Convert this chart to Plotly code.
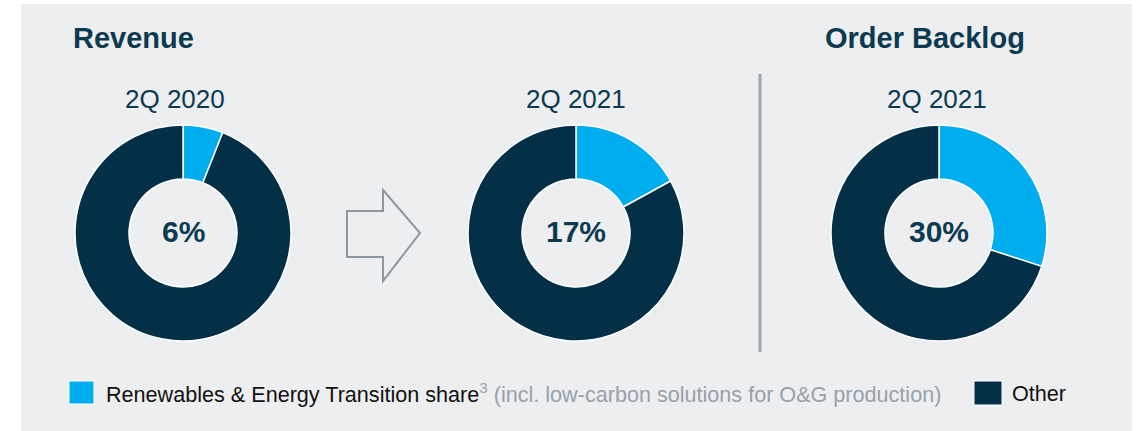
import plotly.graph_objects as go

W, H = 1141, 431

# ---- data ----
periods = ["2Q 2020", "2Q 2021", "2Q 2021"]
share_pct = [6, 17, 30]          # Renewables & Energy Transition share
other_pct = [94, 83, 70]         # Other
section_titles = ["Revenue", "Order Backlog"]
legend_labels = ["Renewables & Energy Transition share", "Other"]
legend_note_sup = "3"
legend_note = "(incl. low-carbon solutions for O&G production)"

BLUE = "#00aeef"
DARK = "#033047"
BG = "#edeef0"
TXT = "#0c3a50"
GRAY = "#97a2ab"
FONT = "Liberation Sans, Arial, sans-serif"

def px(x):
    return x / W

def py(y):
    return 1 - y / H

centers = [183, 576, 939]
label_x = [175, 576, 937]
cy = 233
R = 108

fig = go.Figure()
for i, (p, s, o) in enumerate(zip(periods, share_pct, other_pct)):
    cx = centers[i]
    fig.add_trace(go.Pie(
        values=[s, o],
        labels=legend_labels,
        sort=False,
        direction="clockwise",
        rotation=0,
        hole=0.5,
        marker=dict(colors=[BLUE, DARK], line=dict(color="white", width=1.5)),
        textinfo="none",
        hoverinfo="label+percent",
        showlegend=False,
        domain=dict(x=[px(cx - R), px(cx + R)], y=[py(cy + R), py(cy - R)]),
    ))

annotations = []
# section titles
annotations.append(dict(x=px(71), y=py(38), text="<b>%s</b>" % section_titles[0],
                        xanchor="left", yanchor="middle", showarrow=False,
                        font=dict(size=29, color=TXT, family=FONT)))
annotations.append(dict(x=px(925), y=py(38), text="<b>%s</b>" % section_titles[1],
                        xanchor="center", yanchor="middle", showarrow=False,
                        font=dict(size=29, color=TXT, family=FONT)))
for i, (p, s) in enumerate(zip(periods, share_pct)):
    cx = centers[i]
    annotations.append(dict(x=px(label_x[i]), y=py(99), text=p, xanchor="center", yanchor="middle",
                            showarrow=False, font=dict(size=26, color=TXT, family=FONT)))
    annotations.append(dict(x=px(cx), y=py(cy - 2), text="<b>%d%%</b>" % s, xanchor="center",
                            yanchor="middle", showarrow=False,
                            font=dict(size=30, color=TXT, family=FONT)))

# legend
annotations.append(dict(
    x=px(104), y=py(393),
    text=("<span style='color:#111111'>%s</span><sup>%s</sup> %s"
          % (legend_labels[0], legend_note_sup, legend_note)),
    xanchor="left", yanchor="middle", showarrow=False,
    font=dict(size=21.6, color=GRAY, family=FONT)))
annotations.append(dict(x=px(1010), y=py(393), text=legend_labels[1], xanchor="left",
                        yanchor="middle", showarrow=False,
                        font=dict(size=21.6, color="#111111", family=FONT)))

shapes = [
    # background panel
    dict(type="rect", xref="paper", yref="paper", x0=px(21), x1=px(1132), y0=0, y1=py(4),
         fillcolor=BG, line=dict(width=0), layer="below"),
    # separator
    dict(type="line", xref="paper", yref="paper", x0=px(760), x1=px(760), y0=py(74), y1=py(352),
         line=dict(color="#9aa5ae", width=3)),
    # legend squares
    dict(type="rect", xref="paper", yref="paper", x0=px(69), x1=px(94), y0=py(404), y1=py(381),
         fillcolor=BLUE, line=dict(color="white", width=1)),
    dict(type="rect", xref="paper", yref="paper", x0=px(974), x1=px(1002), y0=py(405), y1=py(381),
         fillcolor=DARK, line=dict(color="white", width=1)),
]
# arrow outline
arrow_pts = [(347, 211), (383, 211), (383, 190), (420, 233), (383, 281), (383, 257), (347, 257)]
path = "M " + " L ".join("%.5f,%.5f" % (px(x), py(y)) for x, y in arrow_pts) + " Z"
shapes.append(dict(type="path", xref="paper", yref="paper", path=path,
                   line=dict(color="#8a98a3", width=2), fillcolor="rgba(0,0,0,0)"))

fig.update_layout(
    width=W, height=H,
    margin=dict(l=0, r=0, t=0, b=0),
    paper_bgcolor="white",
    plot_bgcolor="white",
    annotations=annotations,
    shapes=shapes,
    showlegend=False,
    font=dict(family=FONT),
)

fig.write_html("out.html")
